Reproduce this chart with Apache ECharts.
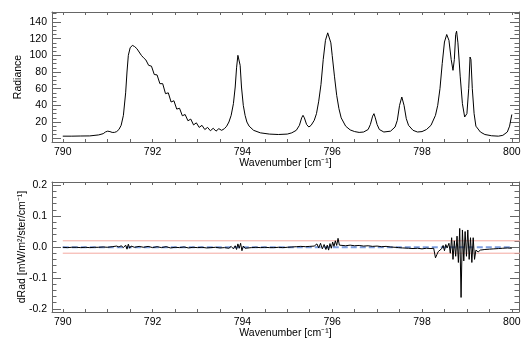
<!DOCTYPE html>
<html>
<head>
<meta charset="utf-8">
<script src="https://cdn.jsdelivr.net/npm/echarts@6/dist/echarts.min.js"></script>
<style>
html,body{margin:0;padding:0;background:#fff;}
#chart{width:525px;height:345px;}
</style>
</head>
<body>
<div id="chart"></div>
<script>
// ---------- data ----------
const wavenumber = [
  790.00,790.20,790.40,790.60,790.80,790.90,790.95,791.00,791.05,791.10,791.15,791.20,791.25,791.30,791.35,
  791.40,791.43,791.46,791.50,791.55,791.60,791.65,791.70,791.75,791.80,
  791.8500,791.9125,791.9750,792.0375,792.1000,792.1625,792.2250,792.2875,792.3500,792.4125,792.4750,
  792.5375,792.6000,792.6625,792.7250,792.7875,792.8500,792.9125,792.9750,793.0375,793.1000,793.1625,
  793.2250,793.2875,793.3500,793.4125,793.4750,793.5375,793.6000,
  793.65,793.70,793.75,793.80,793.84,793.87,793.90,793.92,793.95,793.98,794.02,794.06,794.10,794.15,794.25,
  794.40,794.60,794.80,795.00,795.10,795.20,795.27,795.32,795.35,795.38,795.43,795.48,795.53,795.60,795.65,
  795.70,795.75,795.80,795.85,795.90,795.93,795.97,796.00,796.05,796.10,796.15,796.20,796.30,796.40,796.50,
  796.60,796.70,796.80,796.85,796.90,796.93,796.96,797.00,797.05,797.15,797.30,797.40,797.45,797.50,797.55,
  797.60,797.65,797.70,797.80,797.90,798.00,798.10,798.20,798.30,798.35,798.40,798.45,798.50,798.55,798.60,
  798.65,798.69,798.72,798.75,798.77,798.80,798.85,798.90,798.95,799.00,799.04,799.07,799.09,799.12,799.16,
  799.20,799.30,799.40,799.55,799.70,799.80,799.90,799.95,800.00
];
const radiance = [
  3,3,3.2,3.3,4.5,6,8,9,8.5,7.5,7.5,8.5,11,16,28,
  55,80,100,109,112,110.5,108,104,100,97,
  94.5,88,87,77,76.5,66,66,54,55,44,45.5,
  35.5,36.5,27.5,29,21.5,23.5,16.5,19,13.5,16,11,
  13.5,9.5,12.5,9,12,10,12,
  15,20,28,42,62,85,100,101,88,62,40,28,20,15,10,
  7,5.5,5,5.5,7,10,16,25,28,25,17,14,16,22,30,
  45,65,95,118,127,126,115,100,75,52,36,25,15,10.5,8.5,
  7.5,8,11,17,27,30,25,17,11,8,9,14,22,40,50,
  40,24,16,10,8,8.5,11,16,28,40,60,90,116,125,118,
  95,82,95,125,129,115,75,42,26,30,60,98,95,60,30,
  15,8,5,3.5,3,4,8,15,29
];

const resWn = [
  790.0,790.1,790.2,790.3,790.4,790.5,790.6,790.7,790.8,790.9,791.0,791.1,791.2,791.25,791.3,791.35,
  791.40,791.43,791.46,791.49,791.52,791.6,791.7,791.8,791.9,792.0,792.1,792.2,792.3,792.4,792.5,792.6,
  792.7,792.8,792.9,793.0,793.1,793.2,793.3,793.4,793.5,793.6,793.70,793.75,793.80,793.84,793.87,793.90,
  793.93,793.96,793.99,794.02,794.06,794.1,794.2,794.3,794.4,794.5,794.6,794.7,794.8,794.9,795.0,795.1,
  795.2,795.3,795.4,795.5,795.6,795.66,795.70,795.74,795.78,795.82,795.86,795.89,795.92,795.95,795.98,
  796.01,796.04,796.07,796.10,796.13,796.16,796.20,796.3,796.4,796.5,796.6,796.7,796.8,796.9,797.0,
  797.1,797.2,797.3,797.4,797.48,797.52,797.56,797.6,797.7,797.8,797.9,798.0,798.1,798.2,798.26,798.30,
  798.33,798.36,798.40,798.44,798.47,798.50,798.53,798.56,798.60,798.63,798.66,798.69,798.72,798.75,
  798.78,798.81,798.84,798.87,798.90,798.93,798.96,798.99,799.02,799.05,799.08,799.11,799.14,799.17,
  799.20,799.25,799.30,799.4,799.5,799.6,799.7,799.8,799.9,800.0
];
const resVal = [
  -0.001,-0.002,-0.001,-0.001,-0.002,-0.001,-0.002,-0.001,-0.001,0.000,-0.001,0.001,0.003,0.000,0.004,-0.002,
  0.006,-0.007,0.009,-0.004,0.003,-0.001,0.002,-0.001,0.002,-0.002,0.001,-0.002,0.001,-0.003,-0.001,-0.002,
  0.000,-0.003,-0.001,-0.002,-0.001,-0.003,-0.002,-0.001,-0.003,-0.002,-0.004,0.002,-0.006,0.004,-0.008,0.010,
  -0.004,0.012,-0.012,0.003,-0.004,0.001,-0.002,-0.001,-0.002,-0.001,-0.002,-0.002,-0.001,-0.002,-0.001,0.000,
  0.001,0.002,0.001,0.002,0.003,0.010,-0.003,0.012,-0.006,0.008,-0.008,0.006,-0.010,0.011,-0.004,
  0.016,0.002,0.020,0.005,0.028,0.006,0.010,0.004,0.006,0.004,0.005,0.003,0.004,0.002,0.003,
  0.001,0.002,0.000,-0.001,-0.002,-0.008,-0.003,-0.005,-0.004,-0.005,-0.004,-0.006,-0.004,-0.005,-0.004,-0.035,
  -0.025,-0.015,-0.010,-0.005,0.005,-0.012,0.008,-0.003,0.012,-0.020,0.030,-0.040,0.020,-0.030,
  0.035,-0.050,0.060,-0.163,0.055,-0.045,0.050,-0.030,0.055,-0.040,0.030,-0.050,0.030,-0.040,
  -0.010,-0.016,-0.010,-0.008,-0.007,-0.006,-0.005,-0.004,-0.003,-0.004
];

const meanWn = [790, 800];
const meanVal = [-0.001, -0.001];
const limitWn = [790, 800.3];
const limitHi = [0.02, 0.02];
const limitLo = [-0.02, -0.02];

const xTicks = [790, 792, 794, 796, 798, 800];
const radTicks = [0, 20, 40, 60, 80, 100, 120, 140];
const dRadTicks = [-0.2, -0.1, 0.0, 0.1, 0.2];

// ---------- layout / style ----------
const X_MIN = 789.76, X_MAX = 800.16;
const FONT = "'Liberation Sans', Arial, sans-serif";
const FS = 10.5;
const AX = '#666';

function steps(a, b, s) { const r = []; for (let v = a; v <= b + 1e-9; v += s) r.push(+v.toFixed(4)); return r; }
const xMinor = steps(790, 800, 0.5);
const radMinor = steps(0, 150, 5);
const dRadMinor = steps(-0.2, 0.2, 0.02);

const txt = { color: '#000', fontSize: FS, fontFamily: FONT };
const grids = [
  { left: 52, top: 12, width: 467, height: 130, outerBoundsMode: 'none' },
  { left: 52, top: 182, width: 467, height: 130, outerBoundsMode: 'none' }
];

function xAxes(g) {
  const base = {
    gridIndex: g, type: 'value', min: X_MIN, max: X_MAX,
    splitLine: { show: false },
    axisLine: { show: true, onZero: false, lineStyle: { color: AX, width: 1 } },
    axisTick: { show: true, inside: true, length: 3, customValues: xMinor, lineStyle: { color: AX } }
  };
  return [
    Object.assign({}, base, {
      position: 'bottom',
      axisLabel: Object.assign({ show: true, customValues: xTicks, margin: 5 }, txt),
      name: 'Wavenumber [cm\u207B\u00B9]', nameLocation: 'middle', nameGap: 16, nameMoveOverlap: false,
      nameTextStyle: txt
    }),
    Object.assign({}, base, { position: 'top', axisLabel: { show: false } })
  ];
}
function yAxes(g, min, max, major, minor, fmt, name, gap) {
  const base = { gridIndex: g, type: 'value', min: min, max: max, splitLine: { show: false } };
  const line = { show: true, onZero: false, lineStyle: { color: AX, width: 1 } };
  return [
    Object.assign({}, base, {
      position: 'left', axisLine: line,
      axisTick: { show: true, inside: true, length: 9, customValues: major, lineStyle: { color: AX } },
      axisLabel: Object.assign({ show: true, customValues: major, margin: 5, formatter: fmt }, txt),
      name: name, nameLocation: 'middle', nameGap: gap, nameMoveOverlap: false, nameTextStyle: txt
    }),
    Object.assign({}, base, {
      position: 'left', axisLine: { show: false },
      axisTick: { show: true, inside: true, length: 4.5, customValues: minor, lineStyle: { color: AX } },
      axisLabel: { show: false }
    }),
    Object.assign({}, base, {
      position: 'right', axisLine: line,
      axisTick: { show: true, inside: true, length: 9, customValues: major, lineStyle: { color: AX } },
      axisLabel: { show: false }
    }),
    Object.assign({}, base, {
      position: 'right', axisLine: { show: false },
      axisTick: { show: true, inside: true, length: 4.5, customValues: minor, lineStyle: { color: AX } },
      axisLabel: { show: false }
    })
  ];
}

const zip = (a, b) => a.map((v, i) => [v, b[i]]);
const lineSeries = (xi, yi, data, style, z) => ({
  type: 'line', xAxisIndex: xi, yAxisIndex: yi, data: data, showSymbol: false, symbol: 'none',
  clip: true, silent: true, lineStyle: style, z: z
});

const option = {
  animation: false,
  backgroundColor: '#fff',
  grid: grids,
  xAxis: xAxes(0).concat(xAxes(1)),
  yAxis: yAxes(0, -4, 152, radTicks, radMinor, v => String(v), 'Radiance', 28)
    .concat(yAxes(1, -0.21, 0.21, dRadTicks, dRadMinor, v => v.toFixed(1), 'dRad [mW/m\u00B2/ster/cm\u207B\u00B9]', 24)),
  series: [
    lineSeries(0, 0, zip(wavenumber, radiance), { color: '#000', width: 1 }, 3),
    lineSeries(2, 4, zip(limitWn, limitHi), { color: '#f4a8a0', width: 1 }, 1),
    lineSeries(2, 4, zip(limitWn, limitLo), { color: '#f4a8a0', width: 1 }, 1),
    lineSeries(2, 4, zip(meanWn, meanVal), { color: '#7f9fe0', width: 2, type: [6, 3] }, 2),
    lineSeries(2, 4, zip(resWn, resVal), { color: '#000', width: 1 }, 3)
  ]
};
const chart = echarts.init(document.getElementById('chart'), null, { renderer: 'canvas' });
chart.setOption(option);
</script>
</body>
</html>
